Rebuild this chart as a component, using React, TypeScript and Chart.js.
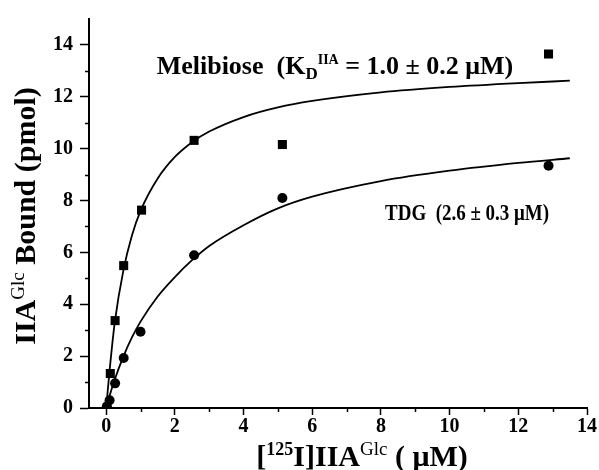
import React, { useEffect, useRef } from "react";
import { Chart, registerables } from "chart.js";

Chart.register(...registerables);

// Measured points
const melibioseX = [0.12, 0.26, 0.51, 1.03, 2.56, 5.13, 12.88];
const melibioseY = [1.33, 3.37, 5.49, 7.63, 10.32, 10.16, 13.65];
const tdgX = [0.02, 0.1, 0.26, 0.51, 1.0, 2.56, 5.13, 12.88];
const tdgY = [0.07, 0.3, 0.95, 1.93, 2.94, 5.89, 8.1, 9.34];

// Fitted curves
const curveX = [0, 0.1, 0.25, 0.5, 0.75, 1, 1.5, 2, 2.5, 3, 4, 5, 6, 8, 10, 12, 13.5];
const melibioseCurveY = [0, 1.45, 3.3, 5.3, 6.65, 7.6, 8.85, 9.68, 10.25, 10.66, 11.22, 11.59, 11.84, 12.17, 12.38, 12.53, 12.62];
const tdgCurveY = [0, 0.47, 1.1, 1.98, 2.72, 3.33, 4.3, 5.05, 5.7, 6.25, 7.05, 7.7, 8.15, 8.75, 9.15, 9.45, 9.63];

const xMinorTicks = [1, 3, 5, 7, 9, 11, 13];
const yMinorTicks = [1, 3, 5, 7, 9, 11, 13];

const FAMILY = '"Liberation Serif", "Times New Roman", serif';

type Seg = { t: string; size: number; weight?: string; dy?: number };

const yTitle: Seg[] = [
  { t: "IIA", size: 30 },
  { t: "Glc", size: 19, weight: "normal", dy: -11 },
  { t: " Bound (pmol)", size: 30 },
];
const xTitle: Seg[] = [
  { t: "[", size: 30 },
  { t: "125", size: 18, dy: -11 },
  { t: "I]IIA", size: 30 },
  { t: "Glc", size: 19, weight: "normal", dy: -11 },
  { t: " ( \u03bcM)", size: 30 },
];
const melibioseLabel: Seg[] = [
  { t: "Melibiose  (K", size: 26 },
  { t: "D", size: 17, dy: 5 },
  { t: "IIA", size: 14, dy: -10 },
  { t: " = 1.0 \u00b1 0.2 \u03bcM)", size: 26 },
];
const tdgLabel: Seg[] = [{ t: "TDG  (2.6 \u00b1 0.3 \u03bcM)", size: 24 }];

function drawSegs(
  ctx: CanvasRenderingContext2D,
  segs: Seg[],
  x: number,
  y: number,
  align: "left" | "center",
  fitWidth?: number
) {
  const widths: number[] = [];
  let total = 0;
  for (const s of segs) {
    ctx.font = `${s.weight || "bold"} ${s.size}px ${FAMILY}`;
    const w = ctx.measureText(s.t).width;
    widths.push(w);
    total += w;
  }
  const k = fitWidth && total > fitWidth ? fitWidth / total : 1;
  let cx = align === "center" ? x - (total * k) / 2 : x;
  ctx.textAlign = "left";
  ctx.textBaseline = "alphabetic";
  ctx.fillStyle = "#000";
  segs.forEach((s, i) => {
    ctx.font = `${s.weight || "bold"} ${s.size}px ${FAMILY}`;
    ctx.fillText(s.t, cx, y + (s.dy || 0), widths[i] * k);
    cx += widths[i] * k;
  });
}

const decorPlugin = {
  id: "decor",
  afterDraw(chart: any) {
    const ctx: CanvasRenderingContext2D = chart.ctx;
    const xs = chart.scales.x;
    const ys = chart.scales.y;
    const area = chart.chartArea;
    ctx.save();
    ctx.strokeStyle = "#000";
    ctx.lineWidth = 1.5;
    ctx.beginPath();
    for (const v of xMinorTicks) {
      const px = Math.round(xs.getPixelForValue(v)) + 0.5;
      ctx.moveTo(px, area.bottom);
      ctx.lineTo(px, area.bottom + 4);
    }
    for (const v of yMinorTicks) {
      const py = Math.round(ys.getPixelForValue(v)) + 0.5;
      ctx.moveTo(area.left, py);
      ctx.lineTo(area.left - 4, py);
    }
    ctx.stroke();

    // annotations
    drawSegs(ctx, melibioseLabel, xs.getPixelForValue(1.47), ys.getPixelForValue(12.89), "left");
    drawSegs(ctx, tdgLabel, xs.getPixelForValue(8.12), ys.getPixelForValue(7.26), "left", 164);

    // axis titles
    drawSegs(ctx, xTitle, 362, 466, "center");
    ctx.save();
    ctx.translate(35, 216);
    ctx.rotate(-Math.PI / 2);
    drawSegs(ctx, yTitle, 0, 0, "center");
    ctx.restore();
    ctx.restore();
  },
};

export default function App() {
  const ref = useRef<HTMLCanvasElement>(null);
  useEffect(() => {
    if (!ref.current) return;
    const tickFont = { family: FAMILY, size: 20, weight: "bold" as const };
    const chart = new Chart(ref.current, {
      type: "scatter",
      data: {
        datasets: [
          {
            type: "line",
            data: curveX.map((x, i) => ({ x, y: melibioseCurveY[i] })),
            borderColor: "#000",
            borderWidth: 1.8,
            pointRadius: 0,
            fill: false,
            cubicInterpolationMode: "monotone",
          } as any,
          {
            type: "line",
            data: curveX.map((x, i) => ({ x, y: tdgCurveY[i] })),
            borderColor: "#000",
            borderWidth: 1.8,
            pointRadius: 0,
            fill: false,
            cubicInterpolationMode: "monotone",
          } as any,
          {
            data: melibioseX.map((x, i) => ({ x, y: melibioseY[i] })),
            pointStyle: "rect",
            pointRadius: 6.4,
            backgroundColor: "#000",
            borderColor: "#000",
            borderWidth: 0,
            showLine: false,
          },
          {
            data: tdgX.map((x, i) => ({ x, y: tdgY[i] })),
            pointStyle: "circle",
            pointRadius: 5,
            backgroundColor: "#000",
            borderColor: "#000",
            borderWidth: 0,
            showLine: false,
          },
        ],
      },
      options: {
        animation: false,
        responsive: false,
        devicePixelRatio: 1,
        layout: { padding: { top: 14, right: 12, left: 0, bottom: 0 } },
        plugins: { legend: { display: false }, tooltip: { enabled: false } },
        scales: {
          x: {
            type: "linear",
            min: -0.5,
            max: 14,
            afterFit: (s: any) => {
              s.height = 62;
            },
            ticks: { stepSize: 2, includeBounds: false, color: "#000", font: tickFont, padding: 0, maxRotation: 0 },
            grid: { drawOnChartArea: false, drawTicks: true, tickLength: 7, tickColor: "#000", tickWidth: 1.5 },
            border: { display: true, color: "#000", width: 2 },
          },
          y: {
            type: "linear",
            min: 0,
            max: 15,
            afterFit: (s: any) => {
              s.width = 89;
            },
            ticks: { stepSize: 2, includeBounds: false, color: "#000", font: tickFont, padding: 7 },
            grid: { drawOnChartArea: false, drawTicks: true, tickLength: 9, tickColor: "#000", tickWidth: 1.5 },
            border: { display: true, color: "#000", width: 2 },
          },
        },
      },
      plugins: [decorPlugin],
    });
    return () => chart.destroy();
  }, []);
  return (
    <div style={{ position: "absolute", left: 0, top: 0, width: 599, height: 470, background: "#fff" }}>
      <canvas ref={ref} width={599} height={470} style={{ display: "block" }} />
    </div>
  );
}
